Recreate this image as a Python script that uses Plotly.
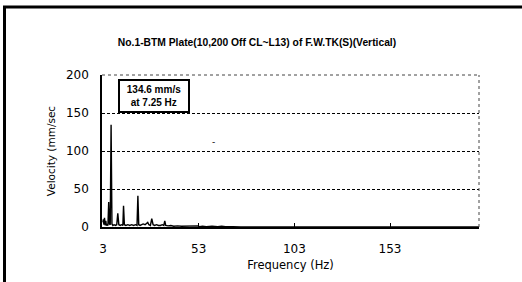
import plotly.graph_objects as go

# Spectrum values
freq_hz = [3.0, 3.2, 3.5, 3.8, 4.2, 4.5, 4.8, 5.2, 5.6, 6.0, 6.4, 6.8, 7.25, 7.7, 8.2, 8.8,
           9.5, 10.2, 10.75, 11.3, 12.0, 12.8, 13.4, 13.75, 14.2, 15.0, 16.0, 17.0, 18.0,
           19.0, 20.0, 20.8, 21.25, 21.7, 22.4, 23.2, 24.0, 25.0, 25.8, 26.4, 27.0, 27.8,
           28.5, 29.2, 30.0, 31.0, 32.0, 33.0, 34.0, 34.8, 35.3, 35.8, 37.0, 38.5, 40.0,
           42.0, 44.0, 46.0, 48.0, 50.0, 52.5, 53.5, 55.0, 57.0, 60.0, 63.0, 65.0, 67.0,
           69.7, 71.0, 75.0, 199.5]
velocity = [6, 10, 3, 12, 2, 8, 2, 3, 2, 33, 4, 3, 134.6, 4, 2, 3,
            2, 3, 18, 3, 2, 3, 2, 28, 3, 2, 3, 2, 3,
            2, 3, 2, 41, 3, 2, 3, 4, 3, 5, 6, 3, 2,
            11, 3, 2, 3, 2, 2, 3, 2, 8, 2, 1.5, 2, 1,
            1.5, 1, 1, 1.5, 1, 1.5, 0.5, 1, 0.5, 1, 0.5, 1.2, 0.5,
            1, 0.3, 0.2, 0]

x_ticks = [3, 53, 103, 153]
x_tick_labels = ["3", "53", "103", "153"]
y_ticks = [0, 50, 100, 150, 200]

title_text = "No.1-BTM Plate(10,200 Off CL~L13) of F.W.TK(S)(Vertical)"
peak_text = "134.6 mm/s<br>at 7.25 Hz"

fig = go.Figure()
fig.add_trace(go.Scatter(x=freq_hz, y=velocity, mode="lines",
                         line=dict(color="black", width=1.4), showlegend=False,
                         hoverinfo="skip"))

W, H = 522, 282
L, R, T, B = 102, 43, 75, 53
pw, ph = W - L - R, H - T - B

def px(x):
    return (x - L) / pw

def py(y):
    return (H - B - y) / ph

fig.update_layout(
    width=W, height=H,
    margin=dict(l=L, r=R, t=T, b=B, pad=0),
    paper_bgcolor="white", plot_bgcolor="white",
    font=dict(family="DejaVu Sans", size=12, color="black"),
    title=dict(text="<b>" + title_text + "</b>", x=257 / W, xanchor="center",
               y=1 - 42 / H, yanchor="middle",
               font=dict(family="Liberation Sans", size=10.3, color="black")),
    xaxis=dict(range=[2.5, 199.5], tickvals=x_ticks, ticktext=x_tick_labels,
               ticks="inside", ticklen=4, tickcolor="black", showgrid=False,
               showline=True, linecolor="black", linewidth=1.5, zeroline=False,
               ticklabelstandoff=10,
               title=dict(text="Frequency (Hz)", standoff=6,
                          font=dict(family="DejaVu Sans", size=11.5))),
    yaxis=dict(range=[0, 200], tickvals=y_ticks, ticks="", showgrid=True,
               gridcolor="black", griddash="3px,2px", gridwidth=1,
               showline=True, linecolor="black", linewidth=1.5, zeroline=False,
               ticklabelstandoff=9,
               title=dict(text="Velocity (mm/sec", standoff=8,
                          font=dict(family="DejaVu Sans", size=10.5))),
)

# dotted top/right plot border
fig.add_shape(type="line", xref="paper", yref="paper", x0=0, x1=1, y0=1, y1=1,
              line=dict(color="#444", width=1, dash="dot"))
fig.add_shape(type="line", xref="paper", yref="paper", x0=1, x1=1, y0=0, y1=1,
              line=dict(color="#444", width=1, dash="dot"))
# outer chart frame (thick, left and top visible)
fig.add_shape(type="rect", xref="paper", yref="paper",
              x0=px(4.5), x1=px(540), y0=py(300), y1=py(6),
              line=dict(color="black", width=3))

fig.add_annotation(xref="paper", yref="paper", x=px(154), y=py(96.5),
                   xanchor="center", yanchor="middle",
                   text="<b>" + peak_text + "</b>", showarrow=False,
                   font=dict(family="Liberation Sans", size=10, color="black"),
                   bordercolor="black", borderwidth=2, borderpad=2,
                   width=64, height=26, bgcolor="white", align="center")

fig.add_annotation(xref="paper", yref="paper", x=px(213.5), y=py(143),
                   xanchor="center", yanchor="middle",
                   text="-", showarrow=False,
                   font=dict(family="DejaVu Sans", size=9, color="black"))

fig.write_html("out.html", config={"displayModeBar": False},
               post_script="document.body.style.margin='0px';document.body.style.overflow='hidden';")
